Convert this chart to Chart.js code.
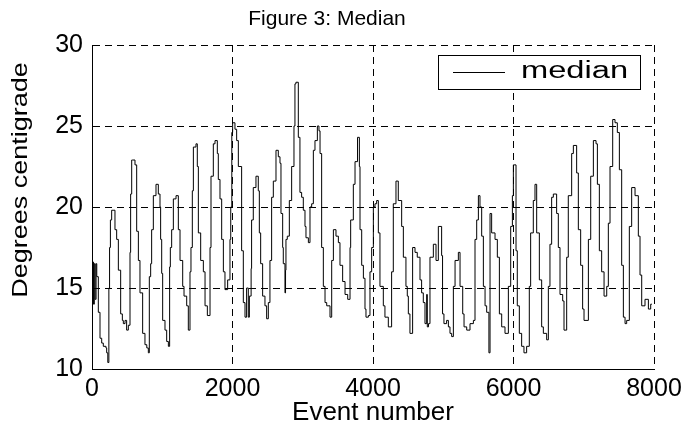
<!DOCTYPE html>
<html>
<head>
<meta charset="utf-8">
<title>Figure 3: Median</title>
<script src="https://cdn.jsdelivr.net/npm/chart.js@4.4.1/dist/chart.umd.min.js"></script>
<style>
  html, body { margin: 0; padding: 0; background: #fff; }
  #wrap { width: 691px; height: 428px; }
</style>
</head>
<body>
<div id="wrap"><canvas id="medianChart" width="691" height="428"></canvas></div>
<script>
// ==========================================
// data
// ==========================================
const eventNumbers = [
  0, 12, 22, 33, 45, 58, 68, 90, 114, 138, 161, 199, 209, 225, 240, 250, 262, 280, 300, 327,
  351, 375, 408, 432, 446, 470, 493, 517, 541, 550, 565, 579, 612, 636, 660, 683, 721, 754, 780, 802,
  816, 835, 849, 873, 911, 944, 968, 977, 992, 1006, 1039, 1063, 1087, 1105, 1115, 1134, 1158, 1196, 1229, 1253,
  1291, 1310, 1348, 1371, 1395, 1409, 1428, 1443, 1480, 1499, 1514, 1547, 1585, 1609, 1642, 1680, 1694, 1727, 1751, 1784,
  1798, 1822, 1846, 1870, 1893, 1931, 1964, 1975, 1990, 2002, 2035, 2059, 2083, 2130, 2154, 2178, 2201, 2225, 2240, 2265,
  2272, 2296, 2334, 2367, 2382, 2401, 2429, 2462, 2486, 2510, 2533, 2557, 2581, 2619, 2652, 2676, 2690, 2714, 2723, 2747,
  2755, 2761, 2780, 2809, 2842, 2875, 2889, 2903, 2937, 2960, 2984, 3008, 3032, 3046, 3080, 3103, 3127, 3151, 3174, 3208,
  3231, 3246, 3269, 3293, 3317, 3341, 3388, 3412, 3436, 3473, 3507, 3530, 3568, 3602, 3640, 3673, 3682, 3720, 3744, 3780,
  3806, 3815, 3839, 3863, 3886, 3900, 3934, 3957, 3981, 4005, 4028, 4052, 4076, 4099, 4147, 4170, 4218, 4265, 4289, 4327,
  4360, 4408, 4432, 4469, 4488, 4503, 4526, 4564, 4598, 4630, 4669, 4692, 4716, 4740, 4764, 4773, 4790, 4811, 4859, 4897,
  4930, 4977, 4990, 5010, 5048, 5073, 5096, 5120, 5144, 5168, 5215, 5239, 5277, 5296, 5334, 5381, 5429, 5452, 5476, 5500,
  5523, 5547, 5571, 5595, 5618, 5650, 5666, 5689, 5737, 5770, 5799, 5832, 5879, 5927, 5960, 5984, 5998, 6021, 6036, 6054,
  6083, 6116, 6149, 6187, 6225, 6244, 6282, 6306, 6330, 6368, 6401, 6425, 6472, 6496, 6519, 6543, 6567, 6614, 6638, 6662,
  6700, 6719, 6757, 6780, 6828, 6852, 6899, 6923, 6956, 6984, 7004, 7066, 7099, 7137, 7175, 7194, 7222, 7255, 7289, 7327,
  7350, 7374, 7412, 7445, 7478, 7507, 7540, 7564, 7588, 7611, 7649, 7682, 7730, 7777, 7801, 7825, 7872, 7920, 7953, 7970
];
const medianValues = [
  16.7, 14.2, 16.6, 14.0, 16.5, 14.3, 16.5, 15.7, 13.5, 11.9, 11.6, 11.4, 11.3, 11.0, 10.4, 15.0, 17.5, 19.2, 19.8, 19.8,
  18.6, 18.0, 16.1, 13.4, 13.0, 12.8, 13.0, 12.4, 12.7, 17.2, 20.8, 22.9, 22.9, 22.6, 18.5, 16.7, 14.7, 12.2, 11.5, 11.3,
  11.0, 15.7, 16.5, 18.6, 20.7, 21.4, 20.8, 20.0, 18.0, 15.9, 13.0, 12.4, 11.7, 11.4, 16.3, 17.5, 18.6, 20.5, 20.7, 18.6,
  16.7, 15.1, 14.5, 13.9, 12.4, 16.0, 17.5, 21.0, 23.7, 23.9, 22.5, 18.4, 16.7, 16.0, 13.9, 13.3, 17.5, 21.9, 23.9, 24.1,
  23.3, 21.7, 20.5, 18.0, 16.0, 14.9, 15.5, 18.0, 20.0, 24.6, 25.2, 24.8, 24.1, 22.5, 17.3, 14.1, 13.2, 15.0, 13.2, 14.5,
  16.2, 19.2, 21.2, 21.9, 21.0, 18.4, 16.5, 14.5, 13.9, 13.1, 14.1, 16.7, 20.6, 21.6, 23.5, 23.1, 22.7, 19.6, 17.5, 16.5,
  14.7, 16.1, 18.0, 18.2, 20.4, 22.5, 25.0, 27.6, 27.7, 24.3, 20.9, 20.6, 19.8, 18.8, 18.1, 17.8, 20.0, 20.2, 23.5, 24.1,
  25.0, 24.7, 23.3, 17.5, 15.1, 14.1, 13.9, 13.2, 16.7, 18.6, 18.2, 17.8, 16.4, 15.4, 14.6, 14.3, 17.5, 19.2, 21.4, 22.8,
  24.3, 22.5, 18.6, 16.4, 15.6, 13.7, 13.2, 13.3, 16.0, 17.5, 20.0, 20.2, 20.4, 18.4, 15.1, 13.9, 13.2, 12.6, 16.0, 20.2,
  21.6, 20.4, 18.8, 16.9, 15.1, 14.5, 13.4, 12.2, 17.5, 17.2, 16.9, 15.5, 14.7, 14.1, 12.8, 14.6, 12.6, 12.8, 16.9, 17.7,
  16.7, 18.8, 17.0, 13.4, 12.8, 13.0, 12.6, 12.2, 12.0, 15.1, 16.7, 17.2, 15.1, 13.4, 12.6, 12.4, 12.8, 13.0, 18.0, 19.2,
  20.7, 20.0, 18.2, 15.1, 13.9, 13.5, 11.0, 19.6, 18.4, 18.0, 16.9, 13.4, 12.6, 12.2, 15.1, 18.8, 20.7, 22.6, 22.6, 17.3,
  13.9, 12.2, 11.4, 11.0, 11.4, 15.1, 18.4, 20.4, 21.4, 18.4, 15.5, 12.6, 12.2, 11.8, 15.1, 17.7, 20.6, 20.8, 19.6, 17.5,
  14.6, 14.2, 12.4, 16.9, 20.7, 23.3, 23.8, 22.1, 18.6, 16.4, 13.7, 13.0, 18.0, 21.9, 24.1, 23.9, 21.4, 17.3, 16.0, 14.5,
  15.1, 19.0, 22.5, 25.4, 25.2, 24.6, 22.3, 16.4, 13.2, 12.8, 13.0, 18.8, 21.2, 20.7, 18.2, 15.8, 13.9, 14.3, 13.7, 14.0
];
const xTicks = [0, 2000, 4000, 6000, 8000];
const yTicks = [10, 15, 20, 25, 30];

const chartTitle = 'Figure 3: Median';
const seriesLabel = 'median';
const xTitle = 'Event number';
const yTitle = 'Degrees centigrade';

const FONT = "'Liberation Sans', Arial, sans-serif";

// ==========================================
// legend box + rotated y label (drawn by hand)
// ==========================================
const matlabExtras = {
    id: 'matlabExtras',
    afterDraw(chart) {
        const ctx = chart.ctx;
        const area = chart.chartArea;

        // y label sits a bit above the middle in the original, glyphs squeezed
        ctx.save();
        ctx.fillStyle = '#000';
        ctx.font = '27px ' + FONT;
        ctx.textAlign = 'center';
        ctx.textBaseline = 'middle';
        ctx.translate(21, 180);
        ctx.rotate(-Math.PI / 2);
        ctx.scale(1, 0.82);
        ctx.fillText(yTitle, 0, 0);
        ctx.restore();

        // legend
        const ds = chart.data.datasets[0];
        const bx = area.right - 216, by = area.top + 10, bw = 202, bh = 34;
        ctx.save();
        ctx.fillStyle = '#fff';
        ctx.fillRect(bx, by, bw, bh);
        ctx.strokeStyle = '#000';
        ctx.lineWidth = 1;
        ctx.strokeRect(bx + 0.5, by + 0.5, bw, bh);

        ctx.beginPath();
        ctx.moveTo(bx + 15, by + 17.5);
        ctx.lineTo(bx + 67, by + 17.5);
        ctx.strokeStyle = ds.borderColor;
        ctx.stroke();

        ctx.fillStyle = '#000';
        ctx.font = '23px ' + FONT;
        ctx.textBaseline = 'middle';
        ctx.translate(bx + 83, by + 17);
        ctx.scale(1.42, 1);
        ctx.fillText(ds.label, 0, 0);
        ctx.restore();
    }
};

// ==========================================
// chart
// ==========================================
Chart.defaults.font.family = FONT;
Chart.defaults.color = '#000';

const points = eventNumbers.map((x, i) => ({ x: x, y: medianValues[i] }));

new Chart(document.getElementById('medianChart').getContext('2d'), {
    type: 'line',
    data: {
        datasets: [{
            label: seriesLabel,
            data: points,
            borderColor: '#000',
            borderWidth: 1,
            pointRadius: 0,
            stepped: 'after',
            fill: false
        }]
    },
    options: {
        responsive: false,
        animation: false,
        devicePixelRatio: 1,
        layout: { padding: { left: 0, right: 37, top: 0, bottom: 0 } },
        plugins: {
            legend: { display: false },
            tooltip: { enabled: false },
            title: {
                display: true,
                text: chartTitle,
                font: { size: 21, weight: 'normal' },
                padding: { top: 7, bottom: 12.8 }
            }
        },
        scales: {
            x: {
                type: 'linear',
                min: 0,
                max: 8000,
                afterBuildTicks: s => { s.ticks = xTicks.map(v => ({ value: v })); },
                afterFit: s => { s.height = 59; },
                grid: { color: '#000', lineWidth: 1, drawTicks: false },
                border: { display: true, color: '#000', width: 1, dash: [7, 5] },
                ticks: { font: { size: 25 }, padding: 5, maxRotation: 0, callback: v => String(v) },
                title: {
                    display: true,
                    text: xTitle,
                    font: { size: 26 },
                    padding: { top: 0, bottom: 0 }
                }
            },
            y: {
                min: 10,
                max: 30,
                afterBuildTicks: s => { s.ticks = yTicks.map(v => ({ value: v })); },
                afterFit: s => { s.width = 92; },
                grid: { color: '#000', lineWidth: 1, drawTicks: false },
                border: { display: true, color: '#000', width: 1, dash: [7, 5] },
                ticks: { font: { size: 25 }, padding: 9, callback: v => String(v) }
            }
        }
    },
    plugins: [matlabExtras]
});
</script>
</body>
</html>
